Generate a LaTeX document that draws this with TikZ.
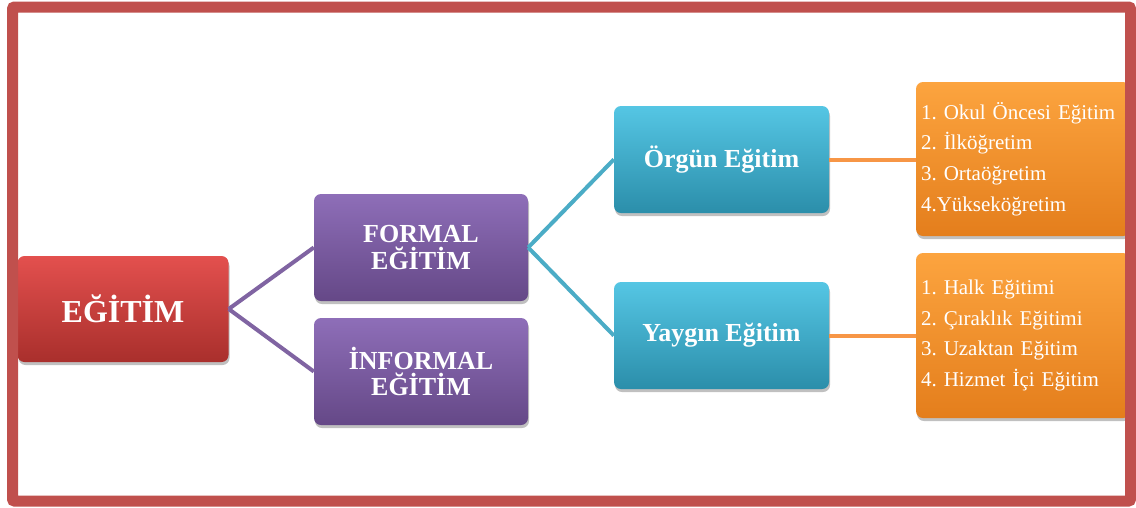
\documentclass[tikz,border=0pt]{standalone}
\usepackage{fontspec}
\setmainfont{Liberation Serif}
\usetikzlibrary{shadows}
\definecolor{frameRed}{HTML}{C0504D}
\definecolor{redTop}{HTML}{E3504E}
\definecolor{redBot}{HTML}{A92F2C}
\definecolor{purTop}{HTML}{8E6EB8}
\definecolor{purBot}{HTML}{654887}
\definecolor{purLine}{HTML}{8064A2}
\definecolor{bluTop}{HTML}{55C6E4}
\definecolor{bluBot}{HTML}{2B8EAA}
\definecolor{bluLine}{HTML}{4BACC6}
\definecolor{oraTop}{HTML}{FCA43F}
\definecolor{oraBot}{HTML}{E47E1C}
\definecolor{oraLine}{HTML}{F79646}
\frenchspacing
\tikzset{
  boxbase/.style={rounded corners=7pt, inner sep=0pt, text=white,
    drop shadow={shadow xshift=1pt, shadow yshift=-3pt, opacity=0.35, fill=black!70}},
  redbox/.style={boxbase, top color=redTop, bottom color=redBot,
    minimum width=211pt, minimum height=106pt,
    font=\fontsize{32}{34}\selectfont\bfseries},
  purbox/.style={boxbase, top color=purTop, bottom color=purBot,
    minimum width=214pt, minimum height=107pt, align=center,
    font=\fontsize{26}{26.5}\selectfont\bfseries},
  blubox/.style={boxbase, top color=bluTop, bottom color=bluBot,
    minimum width=215pt, minimum height=107pt,
    font=\fontsize{26}{28}\selectfont\bfseries},
  orabox/.style={boxbase, top color=oraTop, bottom color=oraBot,
    minimum width=214pt, inner xsep=5pt, align=left, text width=204pt,
    font=\fontsize{21}{30.7}\selectfont\frenchspacing},
  purcon/.style={draw=purLine, line width=4pt},
  blucon/.style={draw=bluLine, line width=4pt},
  oracon/.style={draw=oraLine, line width=4pt},
}
\begin{document}
\begin{tikzpicture}[x=1pt, y=-1pt]
\useasboundingbox (0,0) rectangle (1136,507);
\fill[white] (0,0) rectangle (1136,507);
\node[redbox] (egitim) at (123,309) {EĞİTİM};
\node[purbox] (formal) at (421,247.5) {FORMAL\\EĞİTİM};
\node[purbox] (informal) at (421,371.5) {İNFORMAL\\EĞİTİM};
\node[blubox] (orgun) at (721.5,159.5) {Örgün Eğitim};
\node[blubox] (yaygin) at (721.5,335.5) {Yaygın Eğitim};
\node[orabox, minimum height=154pt] (list1) at (1023,159)
  {1. Okul Öncesi Eğitim\\2. İlköğretim\\3. Ortaöğretim\\4.Yükseköğretim};
\node[orabox, minimum height=165pt] (list2) at (1023,335.5)
  {1. Halk Eğitimi\\2. Çıraklık Eğitimi\\3. Uzaktan Eğitim\\4. Hizmet İçi Eğitim};
\draw[purcon] (egitim.east) -- (formal.west);
\draw[purcon] (egitim.east) -- (informal.west);
\draw[blucon] (formal.east) -- (orgun.west);
\draw[blucon] (formal.east) -- (yaygin.west);
\draw[oracon] (orgun.east) -- (list1.west |- orgun.east);
\draw[oracon] (yaygin.east) -- (list2.west |- yaygin.east);
\draw[frameRed, line width=11pt, rounded corners=2pt] (12.5,7) rectangle (1130.5,501);
\end{tikzpicture}
\end{document}
